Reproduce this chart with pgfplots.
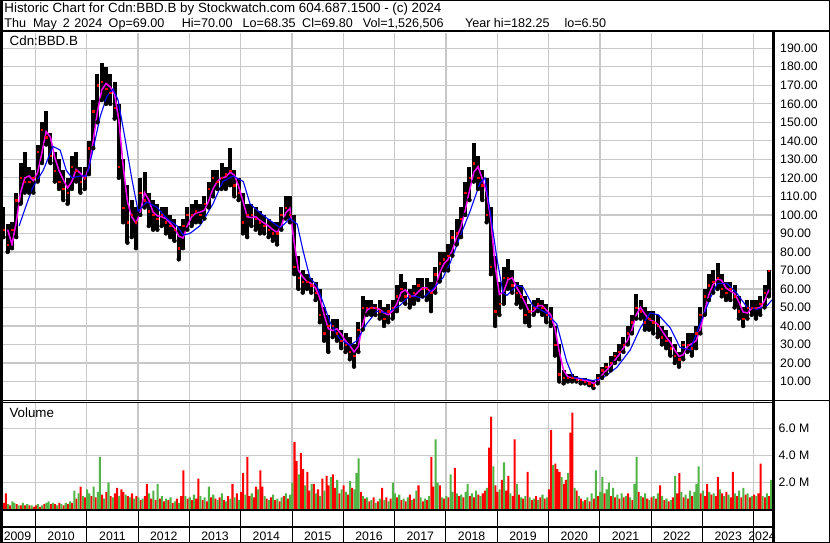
\documentclass[border=0pt]{standalone}
\usepackage{pgfplots}
\pgfplotsset{compat=1.18}
\usepackage{pgfplotstable}
\usepackage{fontspec}
\setmainfont{Liberation Sans}
\definecolor{gridc}{RGB}{200,200,200}
\definecolor{vgreen}{RGB}{80,180,70}
\definecolor{magen}{RGB}{255,0,255}
\newcommand\hfont{\fontsize{13.35}{15}\selectfont}
\newcommand\lfont{\fontsize{12.6}{15}\selectfont}
\newcommand\nfont{\fontsize{12.3}{14}\selectfont}

\pgfplotstableread{
t hi lo cl m
2009.375 104 88 92 nan
2009.458 95 80 84 92
2009.542 96 82 92 84
2009.625 112 88 108 96
2009.708 128 106 120 112
2009.792 134 112 118 120
2009.875 126 112 118 121
2009.958 124 112 120 118.5
2010.042 138 118 134 123
2010.125 150 128 146 133.5
2010.208 156 138 142 145
2010.292 144 128 132 142
2010.375 134 118 124 131
2010.458 130 114 118 124
2010.542 124 108 114 119
2010.625 120 106 112 114.5
2010.708 132 114 126 118
2010.792 134 118 124 124.5
2010.875 126 112 118 122.5
2010.958 126 114 120 119.5
2011.042 140 122 136 125.5
2011.125 162 136 156 140
2011.208 176 150 170 156
2011.292 182 162 172 167.5
2011.375 180 160 168 171
2011.458 176 160 166 169
2011.542 172 152 158 165
2011.625 160 120 126 151
2011.708 130 96 104 126.5
2011.792 116 85 96 107
2011.875 108 88 100 99
2011.958 104 82 96 95.5
2012.042 120 100 112 101.5
2012.125 123 104 108 112
2012.208 112 94 102 108
2012.292 108 92 100 101.5
2012.375 106 92 98 99.5
2012.458 104 94 100 99
2012.542 104 90 96 98
2012.625 100 88 94 95.5
2012.708 98 86 92 93
2012.792 94 76 82 88.5
2012.875 98 82 94 87.5
2012.958 104 92 100 94
2013.042 106 94 100 99
2013.125 108 96 102 101
2013.208 106 96 100 101.5
2013.292 110 98 106 102.5
2013.375 118 104 114 107.5
2013.458 124 110 120 114
2013.542 124 114 118 118
2013.625 128 114 120 120
2013.708 126 114 122 120.5
2013.792 136 116 124 123
2013.875 124 110 116 121.5
2013.958 120 108 112 115.5
2014.042 112 90 96 107.5
2014.125 106 88 100 99
2014.208 106 94 100 98.5
2014.292 104 92 98 99
2014.375 102 90 96 97
2014.458 100 90 94 95.5
2014.542 98 88 92 94
2014.625 96 86 90 92
2014.708 96 84 90 90.5
2014.792 104 92 100 94
2014.875 110 98 104 101
2014.958 110 96 100 103.5
2015.042 100 68 72 85
2015.125 78 60 66 70
2015.208 70 58 64 66.5
2015.292 68 60 64 64
2015.375 66 58 62 63
2015.458 64 54 58 60.5
2015.542 60 42 46 55
2015.625 50 32 36 46
2015.708 46 26 40 38.5
2015.792 44 34 40 37.5
2015.875 44 32 36 38.5
2015.958 38 28 32 35.5
2016.042 36 26 30 32
2016.125 34 22 26 29.5
2016.208 30 18 24 26
2016.292 42 26 38 29
2016.375 56 38 50 40.5
2016.458 54 46 50 48.5
2016.542 54 46 50 50
2016.625 52 46 50 49.5
2016.708 54 44 48 49
2016.792 50 40 44 47
2016.875 52 42 48 46
2016.958 54 44 50 48
2017.042 62 48 56 52
2017.125 68 54 60 58
2017.208 64 52 56 59.5
2017.292 60 50 56 56.5
2017.375 62 52 58 56
2017.458 66 54 62 58.5
2017.542 66 56 60 60.5
2017.625 66 54 60 60.5
2017.708 64 48 58 58
2017.792 72 58 68 60.5
2017.875 80 64 74 68.5
2017.958 80 70 76 73.5
2018.042 84 70 78 76
2018.125 92 78 88 81
2018.208 98 84 90 88
2018.292 104 88 98 93.5
2018.375 118 100 112 102.5
2018.458 126 108 120 113
2018.542 139 118 128 123
2018.625 132 114 120 126
2018.708 124 108 116 119.5
2018.792 120 96 100 112
2018.875 104 68 72 97
2018.958 78 40 48 72.5
2019.042 64 46 52 57
2019.125 72 52 66 58.5
2019.208 76 60 66 65
2019.292 70 58 62 66
2019.375 64 52 58 61
2019.458 62 50 56 57
2019.542 56 42 46 52.5
2019.625 52 40 48 47.5
2019.708 54 46 50 48
2019.792 55 48 52 51
2019.875 54 46 50 51
2019.958 52 42 46 48.5
2020.042 50 40 44 46
2020.125 40 24 30 38.5
2020.208 30 10 14 26
2020.292 16 9 12 16
2020.375 14 10 12 12.5
2020.458 14 10 12 12
2020.542 13 10 11 12
2020.625 12 9 11 11
2020.708 12 9 10 10.5
2020.792 11 8 9 10
2020.875 10 6.5 8 9
2020.958 14 9 12 10
2021.042 18 12 16 13.5
2021.125 20 14 18 16
2021.208 24 16 20 18.5
2021.292 26 20 24 21.5
2021.375 30 22 26 24.5
2021.458 34 26 30 28
2021.542 40 30 36 32.5
2021.625 46 36 42 38
2021.708 57 44 50 46
2021.792 54 44 48 50
2021.875 50 38 42 46.5
2021.958 48 38 44 43.5
2022.042 48 36 42 42.5
2022.125 46 34 40 41
2022.208 40 30 34 37.5
2022.292 38 28 32 34
2022.375 34 24 28 31
2022.458 30 20 24 27
2022.542 26 18 22 23.5
2022.625 32 22 30 24.5
2022.708 36 26 30 29
2022.792 36 24 28 30.5
2022.875 40 28 36 32
2022.958 50 36 46 38.5
2023.042 60 46 56 48
2023.125 68 54 62 57
2023.208 70 58 64 62.5
2023.292 74 60 66 65.5
2023.375 68 56 60 64.5
2023.458 64 54 58 60.5
2023.542 64 54 60 59
2023.625 62 50 56 57.5
2023.708 56 44 48 53
2023.792 50 40 44 47.5
2023.875 54 44 50 47
2023.958 54 46 50 49.5
2024.042 54 44 50 49.5
2024.125 56 46 52 50
2024.208 62 50 58 53.5
2024.292 70 56 69.8 59.5
}\price

\pgfplotstableread{
r g
0.5 0
1.2 0
0 0.4
0.3 0
0 0.6
0 0.5
0.4 0
0 0.3
0.3 0
0 0.5
0.3 0
0 0.4
0.3 0
0 0.3
0.2 0
0.3 0
0 0.4
0.2 0
0 0.3
0.4 0
0 0.5
0 0.6
0.4 0
0 0.5
0.4 0
0 0.3
0.5 0
0 0.4
0.3 0
0 0.5
0.4 0
0 0.6
0.5 0
0 1.4
0.8 0
0 1.2
1.7 0
0 1.0
0.9 0
0 1.5
0 1.2
1.0 0
0 1.7
0.9 0
0 1.3
0 3.9
1.1 0
0 0.8
1.3 0
0 2.0
1.0 0
0 0.9
1.2 0
1.6 0
0 1.0
1.5 0
1.3 0
0 1.1
1.0 0
0 0.9
1.2 0
0 0.8
1.0 0
0 0.9
0.7 0
0 0.8
1.0 0
1.9 0
0 1.2
0.8 0
0 1.4
0.7 0
0 1.9
0.8 0
0 1.0
0.6 0
0 0.8
0.7 0
0 0.9
0.5 0
0 0.6
0.8 0
0 0.5
1.0 0
2.9 0
0 1.0
0.8 0
0 0.9
0.7 0
0 1.1
0.8 0
2.3 0
0 1.0
0.7 0
0 0.9
0.6 0
0 1.7
0.9 0
0 1.1
0.8 0
0 0.7
0.9 0
0 1.2
0.7 0
0 0.6
1.0 0
0 0.8
1.9 0
0 0.9
1.2 0
0 0.7
1.3 0
2.7 0
0 1.1
3.9 0
1.0 0
0 1.2
0.9 0
1.7 0
0 1.5
2.9 0
1.7 0
0 1.0
0.8 0
0 0.7
0.9 0
0 1.1
0.7 0
0 0.8
0.6 0
0 0.9
1.0 0
0 1.2
0.8 0
0 1.1
0 2.0
5.0 0
3.6 0
0 2.6
4.2 0
3.0 0
0 1.8
2.8 0
1.4 0
0 1.9
1.9 0
0 1.2
1.5 0
0 1.0
2.3 0
0 1.4
2.5 0
1.8 0
0 2.4
2.6 0
1.6 0
0 2.2
1.2 0
0 1.5
1.8 0
0 1.3
1.1 0
0 2.1
1.6 0
0 1.5
0 2.7
0 3.8
1.3 0
0 1.0
0.8 0
0 0.9
0.6 0
0 0.7
0.9 0
0 0.5
0.6 0
0 0.8
1.6 0
0 0.7
0.9 0
0 0.6
0.8 0
0 2.0
0 1.2
0.9 0
0 1.1
0.7 0
0 0.8
0.6 0
0 0.9
1.1 0
0 0.7
0.8 0
0 1.4
1.8 0
0 0.9
0.6 0
0 0.8
0.7 0
0 1.0
3.9 0
1.7 0
0 5.2
0 2.0
1.8 0
0 0.9
0.8 0
0 1.0
0.9 0
0 2.6
0 1.3
3.1 0
0 1.2
1.0 0
0 1.1
0.9 0
0 1.3
0 1.9
1.0 0
0 1.2
0.9 0
0 1.4
1.1 0
0 1.0
1.2 0
1.4 0
0 1.6
4.6 0
6.9 0
0 3.2
1.8 0
1.3 0
0 1.5
2.2 0
0 3.5
1.4 0
2.5 0
0 1.2
1.0 0
5.2 0
0 1.9
1.1 0
0 0.9
0.8 0
0 1.0
2.8 0
0 0.9
0.7 0
0 0.8
1.0 0
0 0.7
0.9 0
0 1.1
0.8 0
0 0.9
1.5 0
5.9 0
0 3.3
3.4 0
3.0 0
2.8 0
0 2.4
1.9 0
2.2 0
0 2.7
5.7 0
7.2 0
0 1.6
1.4 0
0 1.0
0.8 0
0 0.6
0.7 0
0 0.9
0.6 0
0 1.2
0.8 0
0 2.9
1.0 0
0 1.3
0 2.4
1.2 0
0 1.5
0 2.0
1.0 0
0 1.6
0.9 0
0 1.1
0.8 0
0 1.2
0.9 0
0 1.0
1.2 0
0 0.9
0.7 0
0 1.9
0 3.9
1.3 0
0 1.0
0.9 0
0 1.2
0.8 0
0 0.7
0.9 0
0 1.0
0.8 0
0 1.2
1.8 0
0 1.0
0.7 0
0 0.8
0.6 0
0 0.7
0.9 0
0 2.5
1.2 0
2.7 0
0 1.3
0.9 0
0 1.1
0.8 0
0 1.4
1.0 0
0 1.3
0 1.9
0 3.2
1.2 0
0 1.4
1.0 0
1.9 0
0 1.3
1.1 0
0 1.2
1.0 0
2.4 0
0 1.5
1.2 0
0 1.0
1.3 0
0 1.1
0.9 0
2.8 0
0 1.2
1.0 0
0 1.4
0.9 0
0 1.6
1.1 0
0 1.2
0.9 0
0 1.0
1.1 0
0 1.0
1.2 0
3.4 0
0 1.0
0.9 0
0 1.2
1.0 0
0 2.2
}\vol

\begin{document}
\begin{tikzpicture}
\useasboundingbox (0,0) rectangle (830pt,-543pt);
\fill[white] (0,0) rectangle (830pt,-543pt);

% ---------- price panel ----------
\begin{axis}[
  at={(2pt,-400.5pt)}, anchor=south west,
  width=772pt, height=368pt, scale only axis,
  xmin=2009.347, xmax=2024.393, ymin=-0.27, ymax=198.5,
  axis line style={draw=none},
  xtick={2010,2011,2012,2013,2014,2015,2016,2017,2018,2019,2020,2021,2022,2023,2024},
  xticklabels={},
  ytick={10,20,30,40,50,60,70,80,90,100,110,120,130,140,150,160,170,180,190},
  yticklabels={10.00,20.00,30.00,40.00,50.00,60.00,70.00,80.00,90.00,100.00,110.00,120.00,130.00,140.00,150.00,160.00,170.00,180.00,190.00},
  yticklabel pos=right,
  yticklabel style={anchor=west, inner sep=0pt, xshift=6pt, font=\nfont},
  major tick length=0pt,
  grid=major, major grid style={gridc, line width=1.3pt},
]
\addplot[only marks, mark=none, error bars/.cd, y dir=plus, y explicit, error mark=none,
  error bar style={draw=black, line width=4.0pt}]
  table[x=t, y=lo, y error expr=\thisrow{hi}-\thisrow{lo}] {\price};
\addplot[only marks, mark=square*, mark size=0.7pt, red, mark options={solid}] table[x=t, y=cl] {\price};
\addplot[magen, line width=1.5pt] table[x=t, y=m] {\price};
\addplot[blue, line width=1.1pt] coordinates {
(2009.68,94) (2009.83,106) (2009.95,115) (2010.15,124) (2010.34,137) (2010.48,135) (2010.6,124) (2010.71,120) (2010.87,121) (2011.0,121) (2011.12,135) (2011.26,153) (2011.39,164) (2011.51,168) (2011.61,162) (2011.74,142) (2011.88,119) (2012.0,102) (2012.17,107) (2012.37,104) (2012.56,98) (2012.76,94) (2012.88,89) (2013.01,90) (2013.2,94) (2013.27,97) (2013.46,106) (2013.65,118) (2013.85,121) (2014.05,118) (2014.18,106) (2014.38,101) (2014.57,97) (2014.77,93) (2014.96,98) (2015.1,95) (2015.22,80) (2015.35,66) (2015.48,62) (2015.6,53) (2015.74,42) (2015.93,33) (2016.13,29.5) (2016.26,32) (2016.45,41) (2016.65,48) (2016.85,47) (2017.1,51) (2017.3,56.5) (2017.55,55) (2017.75,60) (2017.94,66) (2018.08,74) (2018.27,88) (2018.47,102) (2018.66,117) (2018.76,120) (2018.86,102) (2018.99,77) (2019.11,58) (2019.19,56.5) (2019.38,62) (2019.5,61) (2019.69,51) (2019.96,47) (2020.16,41) (2020.35,21) (2020.48,12) (2020.55,12) (2020.87,10.5) (2021.06,12) (2021.33,17.6) (2021.59,27) (2021.79,39) (2021.98,47) (2022.14,46) (2022.37,39) (2022.56,28.4) (2022.76,27) (2022.95,41) (2023.15,55) (2023.29,63) (2023.48,63) (2023.67,57.6) (2023.87,50) (2024.06,49) (2024.26,51) (2024.35,54)};
\end{axis}

% ---------- volume panel ----------
\begin{axis}[
  at={(2pt,-509.5pt)}, anchor=south west,
  width=772pt, height=106.5pt, scale only axis,
  xmin=-0.812, xmax=360.29, ymin=0, ymax=7.907,
  axis line style={draw=none},
  xtick={14.86,38.86,62.86,86.86,110.86,134.86,158.86,182.86,206.86,230.86,254.86,278.86,302.86,326.86,350.86},
  xticklabels={},
  ytick={2,4,6}, yticklabels={2.0 M,4.0 M,6.0 M},
  yticklabel pos=right,
  yticklabel style={anchor=west, inner sep=0pt, xshift=4.3pt, font=\nfont},
  major tick length=0pt,
  grid=major, major grid style={gridc, line width=1.3pt},
]
\addplot[ybar, bar width=0.95, bar shift=0pt, fill=red, draw=none] table[x expr=\coordindex, y=r] {\vol};
\addplot[ybar, bar width=0.95, bar shift=0pt, fill=vgreen, draw=none] table[x expr=\coordindex, y=g] {\vol};
\end{axis}

% ---------- frame ----------
\draw[line width=1.5pt] (0.75pt,-0.75pt) rectangle (829.25pt,-542.25pt);
\draw[line width=2pt] (1.5pt,-1pt) -- (1.5pt,-542pt);
\draw[line width=2pt] (0,-31.5pt) -- (830pt,-31.5pt);
\draw[line width=2.5pt] (773.5pt,-31.5pt) -- (773.5pt,-543pt);
\draw[line width=1.2pt] (0,-400.3pt) -- (830pt,-400.3pt);
\draw[line width=1.2pt] (0,-402.6pt) -- (773.5pt,-402.6pt);
\draw[line width=1.6pt] (0,-510pt) -- (773.5pt,-510pt);
\draw[line width=2pt] (0,-527pt) -- (773.5pt,-527pt);
\foreach \y in {2010,...,2024} {
  \draw[line width=1pt] ({35.5pt+51.31pt*(\y-2010)},-510pt) -- ++(0,-32pt);
}

% ---------- texts ----------
\node[anchor=base west, inner sep=0pt, font=\hfont] at (4.2pt,-12.7pt) {Historic Chart for Cdn:BBD.B by Stockwatch.com 604.687.1500 - (c) 2024};
\begin{scope}[every node/.style={anchor=base west, inner sep=0pt, font=\lfont}]
\node at (4.2pt,-27.5pt) {Thu};
\node at (32.8pt,-27.5pt) {May};
\node at (62.6pt,-27.5pt) {2};
\node at (74.2pt,-27.5pt) {2024};
\node at (108.5pt,-27.5pt) {Op=69.00};
\node at (181.6pt,-27.5pt) {Hi=70.00};
\node at (242.5pt,-27.5pt) {Lo=68.35};
\node at (302pt,-27.5pt) {Cl=69.80};
\node at (362.6pt,-27.5pt) {Vol=1,526,506};
\node at (464.8pt,-27.5pt) {Year hi=182.25};
\node at (564.3pt,-27.5pt) {lo=6.50};
\end{scope}
\begin{scope}[every node/.style={anchor=base west, inner sep=0pt, font=\hfont}]
\node at (9.5pt,-46pt) {Cdn:BBD.B};
\node at (9.3pt,-417.7pt) {Volume};
\end{scope}
\begin{scope}[every node/.style={inner sep=0pt, font=\nfont}]
\node at (17.5pt,-536pt) {2009};
\foreach \y in {2010,...,2023} {
  \node at ({35.5pt+51.31pt*(\y-2010+0.5)},-536pt) {\y};
}
\node at (762pt,-536pt) {2024};
\end{scope}
\end{tikzpicture}
\end{document}
